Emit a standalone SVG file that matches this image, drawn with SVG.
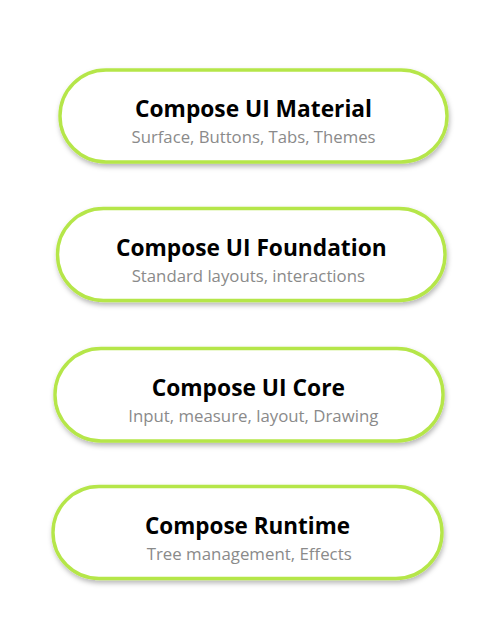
<svg xmlns="http://www.w3.org/2000/svg" width="501" height="641" viewBox="0 0 501 641">
<defs>
<filter id="sh" x="-10%" y="-20%" width="120%" height="150%">
<feDropShadow dx="1" dy="3" stdDeviation="2.5" flood-color="#000" flood-opacity="0.28"/>
</filter>
</defs>
<style>
.pill{fill:#fff;stroke:#b5e649;stroke-width:3.4;filter:url(#sh)}
.t{font-family:"Open Sans","Noto Sans","Liberation Sans",sans-serif;font-weight:bold;font-size:23px;fill:#000;text-anchor:middle}
.s{font-family:"Open Sans","Noto Sans","Liberation Sans",sans-serif;font-size:16.3px;fill:#8a8a8a;text-anchor:middle}
</style>
<rect width="501" height="641" fill="#fff"/>
<g id="connectors"></g>
<g id="material">
<rect class="pill" x="60" y="70" width="387" height="92" rx="46"/>
<text class="t" x="253.5" y="117" textLength="237" lengthAdjust="spacingAndGlyphs">Compose UI Material</text>
<text class="s" x="253.5" y="143" textLength="244" lengthAdjust="spacingAndGlyphs">Surface, Buttons, Tabs, Themes</text>
</g>
<g id="foundation">
<rect class="pill" x="57.5" y="208.5" width="387.5" height="92" rx="46"/>
<text class="t" x="251.3" y="256" textLength="270.7" lengthAdjust="spacingAndGlyphs">Compose UI Foundation</text>
<text class="s" x="248.3" y="282" textLength="233.3" lengthAdjust="spacingAndGlyphs">Standard layouts, interactions</text>
</g>
<g id="core">
<rect class="pill" x="55" y="348.5" width="388" height="92.5" rx="46"/>
<text class="t" x="248.3" y="396" textLength="193.3" lengthAdjust="spacingAndGlyphs">Compose UI Core</text>
<text class="s" x="253.3" y="422" textLength="250" lengthAdjust="spacingAndGlyphs">Input, measure, layout, Drawing</text>
</g>
<g id="runtime">
<rect class="pill" x="53" y="486.5" width="389" height="92" rx="46"/>
<text class="t" x="247.5" y="533.5" textLength="205" lengthAdjust="spacingAndGlyphs">Compose Runtime</text>
<text class="s" x="249.2" y="559.5" textLength="205" lengthAdjust="spacingAndGlyphs">Tree management, Effects</text>
</g>
</svg>
